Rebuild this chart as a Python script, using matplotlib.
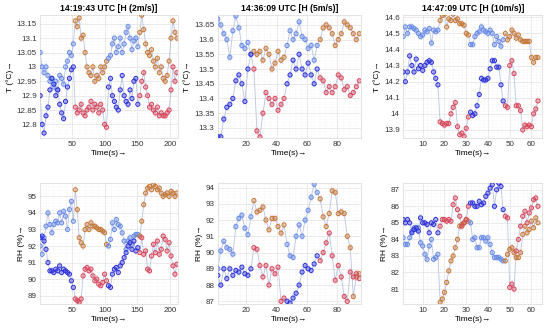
import matplotlib
matplotlib.use('Agg')
import matplotlib.pyplot as plt
import numpy as np
from matplotlib.ticker import AutoMinorLocator, FormatStrFormatter, MultipleLocator
from matplotlib.colors import to_rgba

# time axes (s)
t_2ms = np.arange(1, 212, 3)
t_5ms = np.arange(1, 96, 2)
t_10ms = np.arange(1, 64)

# phase change times (blue -> orange -> blue -> orange)
phase_2ms = [53, 106, 154]
phase_5ms = [24.5, 46, 68]
phase_10ms = [17.5, 32, 48]

titles = ['14:19:43 UTC [H (2m/s)]', '14:36:09 UTC [H (5m/s)]', '14:47:09 UTC [H (10m/s)]']

# temperature, 2 m/s
T_2ms_a = [13.05, 13.0, 12.98, 13.0, 12.97, 12.95, 12.96, 12.93, 12.95, 12.92, 12.97, 12.96, 12.94, 13.0,
           13.02, 13.05, 13.04, 13.08, 13.16, 13.14, 13.17, 13.1, 13.11, 13.05, 13.0, 12.98, 12.97, 13.0,
           12.95, 12.97, 12.96, 13.0, 12.98, 13.0, 13.02, 13.03, 13.04, 13.08, 13.1, 13.05, 13.07, 13.1,
           13.05, 13.08, 13.12, 13.14, 13.1, 13.06, 13.09, 13.1, 13.07, 13.12, 13.18, 13.13, 13.08, 13.05,
           13.04, 13.06, 13.02, 13.0, 13.03, 12.98, 13.0, 12.96, 12.95, 12.97, 13.02, 13.1, 13.16, 13.12, 13.1]
T_2ms_b = [12.9, 12.8, 12.77, 12.83, 12.86, 12.92, 12.96, 12.94, 12.9, 12.92, 12.87, 12.84, 12.82, 12.88,
           12.93, 12.96, 12.99, 13.0, 12.86, 12.84, 12.85, 12.87, 12.84, 12.83, 12.85, 12.86, 12.88, 12.85,
           12.87, 12.86, 12.84, 12.87, 12.85, 12.8, 12.79, 12.93, 12.96, 12.9, 12.88, 12.86, 12.85, 12.92,
           12.97, 12.9, 12.88, 12.87, 12.92, 12.89, 12.95, 12.96, 12.87, 12.9, 12.95, 12.98, 12.93, 12.9,
           12.86, 12.87, 12.85, 12.84, 12.86, 12.83, 12.84, 12.83, 12.83, 12.84, 12.85, 12.92, 13.0, 12.95, 12.98]

# temperature, 5 m/s
T_5ms_a = [13.67, 13.65, 13.62, 13.6, 13.54, 13.63, 13.68, 13.64, 13.58, 13.57, 13.59, 13.55, 13.56, 13.55,
           13.56, 13.53, 13.57, 13.55, 13.5, 13.52, 13.56, 13.53, 13.54, 13.58, 13.63, 13.6, 13.62, 13.66,
           13.61, 13.6, 13.57, 13.58, 13.53, 13.58, 13.6, 13.64, 13.65, 13.64, 13.62, 13.58, 13.6, 13.62,
           13.66, 13.65, 13.64, 13.62, 13.6, 13.62]
T_5ms_b = [13.27, 13.27, 13.33, 13.37, 13.38, 13.4, 13.46, 13.48, 13.45, 13.39, 13.5, 13.55, 13.5, 13.29,
           13.27, 13.35, 13.42, 13.4, 13.38, 13.4, 13.36, 13.38, 13.4, 13.45, 13.48, 13.53, 13.5, 13.55,
           13.5, 13.48, 13.52, 13.48, 13.45, 13.5, 13.47, 13.46, 13.42, 13.44, 13.42, 13.44, 13.48, 13.47,
           13.43, 13.44, 13.41, 13.42, 13.44, 13.46]

# temperature, 10 m/s
T_10ms_a = [14.48, 14.54, 14.5, 14.54, 14.54, 14.53, 14.52, 14.5, 14.48, 14.49, 14.52, 14.51, 14.53, 14.44,
            14.52, 14.51, 14.52, 14.58, 14.61, 14.62, 14.54, 14.59, 14.58, 14.62, 14.58, 14.59, 14.56, 14.56,
            14.55, 14.5, 14.49, 14.43, 14.43, 14.48, 14.5, 14.51, 14.54, 14.52, 14.51, 14.5, 14.52, 14.5,
            14.43, 14.48, 14.45, 14.42, 14.46, 14.5, 14.46, 14.48, 14.52, 14.5, 14.47, 14.49, 14.46, 14.45,
            14.45, 14.45, 14.45, 14.35, 14.32, 14.35, 14.35]
T_10ms_b = [14.26, 14.2, 14.26, 14.36, 14.3, 14.26, 14.34, 14.28, 14.3, 14.27, 14.3, 14.32, 14.33, 14.32,
            14.26, 14.22, 14.18, 13.95, 13.94, 13.93, 13.94, 13.94, 14.0, 14.04, 14.07, 13.92, 13.87, 13.88,
            13.86, 13.91, 13.98, 14.01, 13.99, 14.0, 14.05, 14.12, 14.22, 14.21, 14.21, 14.22, 14.28, 14.33,
            14.33, 14.29, 14.29, 14.18, 14.08, 14.05, 14.04, 14.3, 14.33, 14.25, 14.05, 14.05, 14.02, 13.9,
            13.93, 13.92, 13.93, 13.92, 14.0, 14.03, 14.08]

# relative humidity, 2 m/s
RH_2ms_a = [92.0, 91.5, 92.5, 93.2, 94.0, 93.3, 92.8, 93.3, 93.5, 93.4, 94.0, 93.4, 94.1, 93.8, 93.0, 94.2,
            94.7, 93.5, 95.4, 94.2, 92.5, 92.2, 92.0, 93.0, 93.3, 93.0, 93.4, 93.2, 93.2, 93.1, 93.0, 93.0,
            92.9, 92.8, 92.1, 92.0, 92.4, 93.4, 93.0, 93.6, 93.3, 93.2, 92.8, 92.3, 91.8, 92.3, 92.5, 92.1,
            92.6, 92.7, 92.7, 92.6, 93.5, 94.5, 95.2, 95.5, 95.6, 95.4, 95.7, 95.6, 95.4, 95.5, 95.2, 95.0,
            95.1, 95.2, 95.0, 95.3, 95.2, 95.0, 95.2]
RH_2ms_b = [92.5, 92.6, 92.3, 91.8, 91.0, 90.5, 90.5, 90.4, 90.6, 90.5, 90.8, 90.4, 90.6, 90.5, 90.4, 90.3,
            89.9, 89.5, 88.8, 88.7, 88.6, 88.8, 90.2, 90.6, 90.7, 90.5, 90.6, 90.2, 89.9, 90.0, 89.7, 89.6,
            89.8, 90.3, 89.9, 89.6, 89.5, 90.3, 90.6, 90.7, 90.4, 90.8, 91.0, 91.3, 91.6, 92.0, 92.2, 91.8,
            92.3, 91.7, 91.9, 91.6, 92.5, 91.5, 91.7, 90.6, 90.5, 91.4, 92.1, 91.6, 92.3, 91.5, 91.8, 92.6,
            92.4, 91.7, 92.2, 91.4, 90.8, 90.3, 90.9]

# relative humidity, 5 m/s
RH_5ms_a = [89.0, 90.1, 90.7, 90.3, 90.2, 89.9, 91.6, 92.1, 92.3, 91.5, 91.1, 92.2, 93.2, 92.5, 92.6, 92.8,
            92.0, 91.4, 92.1, 92.1, 91.6, 91.2, 91.7, 90.5, 89.8, 89.7, 91.0, 91.7, 91.0, 92.0, 92.6, 93.4,
            94.2, 93.7, 93.3, 92.2, 91.6, 92.4, 93.8, 93.7, 92.4, 92.5, 92.4, 91.0, 90.3, 87.3, 88.5, 88.7]
RH_5ms_b = [88.6, 88.0, 89.0, 88.4, 89.0, 88.6, 88.9, 88.8, 89.1, 88.7, 88.6, 89.0, 90.3, 90.2, 89.2, 88.5,
            89.2, 88.0, 89.0, 88.7, 89.1, 87.0, 87.2, 87.0, 86.9, 87.2, 87.5, 88.0, 88.8, 89.2, 89.0, 88.9,
            89.3, 89.8, 89.5, 90.0, 90.6, 91.2, 89.8, 88.3, 89.2, 88.5, 87.3, 87.0, 88.8, 88.5, 88.7, 88.4]

# relative humidity, 10 m/s
RH_10ms_a = [84.1, 83.7, 83.7, 84.1, 84.5, 84.7, 84.6, 84.7, 83.8, 83.6, 83.1, 82.8, 83.6, 84.0, 82.8, 82.9,
             83.1, 80.2, 80.4, 80.8, 81.4, 82.1, 82.7, 83.0, 83.5, 84.0, 84.8, 84.9, 85.0, 85.2, 85.1, 85.0,
             84.0, 84.1, 83.5, 83.5, 84.1, 84.1, 83.9, 84.1, 83.7, 83.2, 82.9, 82.9, 82.9, 82.8, 82.7, 82.7,
             83.1, 83.4, 83.5, 83.2, 82.9, 82.9, 83.2, 84.3, 84.8, 84.4, 84.6, 85.1, 84.7, 85.3, 85.0]
RH_10ms_b = [85.2, 85.0, 85.2, 85.0, 84.4, 84.6, 84.7, 84.5, 85.3, 85.0, 85.0, 84.9, 84.4, 85.0, 84.9, 85.2,
             84.4, 84.8, 85.2, 85.2, 85.1, 85.2, 85.1, 86.1, 86.5, 85.8, 85.4, 84.8, 85.0, 85.2, 86.0, 86.2,
             86.2, 86.0, 86.0, 86.3, 86.1, 86.2, 86.6, 86.8, 87.1, 87.3, 86.0, 87.0, 87.4, 87.2, 85.8, 85.4,
             85.3, 81.1, 81.3, 81.0, 83.3, 84.0, 84.8, 85.4, 85.7, 85.0, 85.6, 85.9, 86.4, 86.5, 86.0]

col_a = {0: '#6a8ae6', 1: '#c47a35'}
col_b = {0: '#3030d8', 1: '#d8485a'}
band = {0: '#b9d6f7', 1: '#f9bccf'}

panels = [
    (t_2ms, phase_2ms, T_2ms_a, T_2ms_b, RH_2ms_a, RH_2ms_b, (1, 213), (12.753, 13.181), (88.5, 95.8)),
    (t_5ms, phase_5ms, T_5ms_a, T_5ms_b, RH_5ms_a, RH_5ms_b, (1, 96), (13.266, 13.684), (86.84, 94.27)),
    (t_10ms, phase_10ms, T_10ms_a, T_10ms_b, RH_10ms_a, RH_10ms_b, (1, 65), (13.85, 14.615), (80.1, 87.4)),
]

lefts = [0.073, 0.396, 0.733]
widths = [0.251, 0.26, 0.253]
x_step = [50, 20, 10]
t_step = [0.05, 0.05, 0.1]

plt.rcParams['font.family'] = ['Liberation Sans', 'DejaVu Sans']
fig = plt.figure(figsize=(5.5, 3.3), dpi=100)


def draw(ax, t, phases, ya, yb, ylim):
    t = np.asarray(t)
    ph = np.searchsorted(phases, t, side='right') % 2
    d = 0.03 * (ylim[1] - ylim[0])
    for y, cols in ((np.asarray(ya), col_a), (np.asarray(yb), col_b)):
        # shaded bands per phase
        edges = np.flatnonzero(np.diff(ph)) + 1
        for seg in np.split(np.arange(len(t)), edges):
            p = ph[seg[0]]
            ax.fill_between(t[seg], y[seg] - d, y[seg] + d, color=band[p], alpha=0.4, lw=0, step='mid', zorder=1)
        ax.plot(t, y, color='#a9b6dc', lw=0.6, alpha=0.8, zorder=2)
        ec = [cols[p] for p in ph]
        fc = [to_rgba(cols[p], 0.3) for p in ph]
        ax.scatter(t, y, s=9, facecolors=fc, edgecolors=ec, linewidths=0.7, zorder=3)


for i, (t, phases, Ta, Tb, Ra, Rb, xlim, tlim, rlim) in enumerate(panels):
    ax_t = fig.add_axes([lefts[i], 0.582, widths[i], 0.373])
    ax_r = fig.add_axes([lefts[i], 0.079, widths[i], 0.366])
    draw(ax_t, t, phases, Ta, Tb, tlim)
    draw(ax_r, t, phases, Ra, Rb, rlim)
    ax_t.set_title(titles[i], fontsize=6.2, fontweight='bold', pad=3)
    ax_t.set_ylim(tlim)
    ax_r.set_ylim(rlim)
    ax_t.yaxis.set_major_locator(MultipleLocator(t_step[i]))
    ax_r.yaxis.set_major_locator(MultipleLocator(1))
    ax_t.set_ylabel('T (°C)→', fontsize=6, labelpad=2)
    ax_r.set_ylabel('RH (%)→', fontsize=6, labelpad=2)
    for ax in (ax_t, ax_r):
        ax.set_xlim(xlim)
        ax.xaxis.set_major_locator(MultipleLocator(x_step[i]))
        ax.set_xlabel('Time(s)→', fontsize=6, labelpad=1.5)
        ax.yaxis.set_major_formatter(FormatStrFormatter('%g'))
        ax.xaxis.set_minor_locator(AutoMinorLocator(5))
        ax.yaxis.set_minor_locator(AutoMinorLocator(5))
        ax.grid(True, which='major', color='#e2e2e2', lw=0.5)
        ax.grid(True, which='minor', color='#efefef', lw=0.4, ls=':')
        ax.tick_params(which='both', length=0, labelsize=5.8, colors='#333333', pad=2.5)
        for s in ax.spines.values():
            s.set_color('#d8d8d8')
            s.set_linewidth(0.5)
        ax.set_axisbelow(True)

fig.savefig('out.png', dpi=100)
